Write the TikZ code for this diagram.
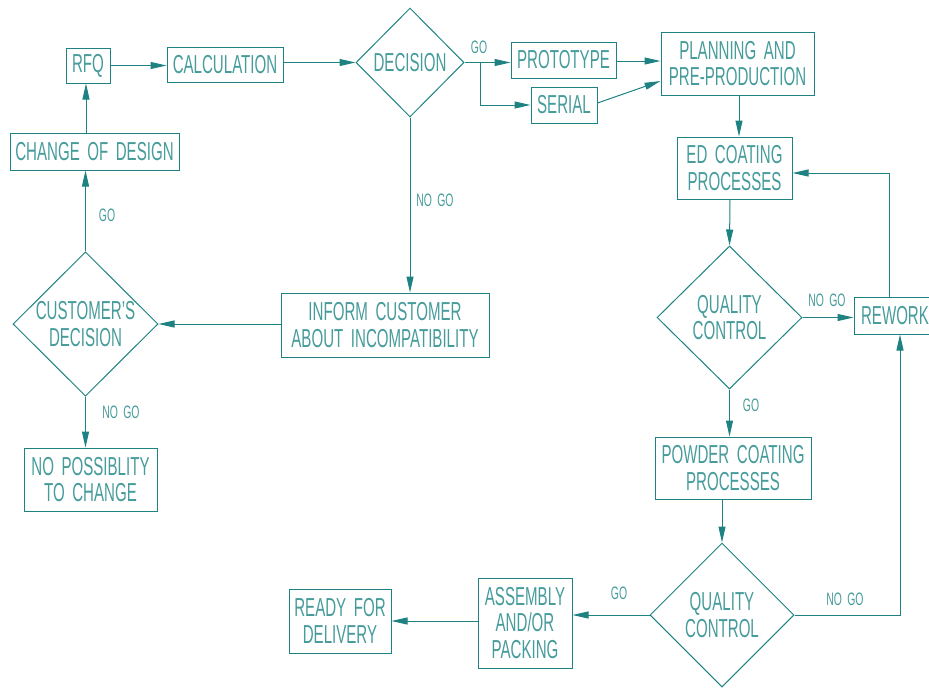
\documentclass[tikz,border=0pt]{standalone}
\usepackage{fontspec}
\setmainfont[FakeStretch=0.58,WordSpace=1.8]{Liberation Sans}
\usetikzlibrary{shapes.geometric,arrows.meta}
\definecolor{tl}{RGB}{30,130,130}
\definecolor{tt}{RGB}{70,155,155}
\begin{document}
\begin{tikzpicture}[x=1pt,y=-1pt,
  box/.style={draw=tl, line width=1pt, text=tt, inner sep=0pt, align=center,
    font=\fontsize{26}{26.5}\selectfont},
  dia/.style={diamond, draw=tl, line width=1pt, text=tt, inner sep=0pt, align=center,
    font=\fontsize{26}{26.5}\selectfont},
  arr/.style={draw=tl, line width=1pt, -{Triangle[length=16pt,width=7pt]}},
  lbl/.style={text=tt, inner sep=0pt, font=\fontsize{18}{18}\selectfont},
]
\useasboundingbox (0,0) rectangle (929,689);
% boxes
\node[box, minimum width=44pt, minimum height=35pt] (rfq) at (88,65.5) {RFQ};
\node[box, minimum width=116pt, minimum height=35pt] (calc) at (225,64.5) {CALCULATION};
\node[box, minimum width=169pt, minimum height=37pt] (change) at (94.5,151.5) {CHANGE OF DESIGN};
\node[dia, minimum width=108pt, minimum height=109pt] (dec) at (410,62.5) {DECISION};
\node[box, minimum width=105pt, minimum height=36pt] (proto) at (563.5,60) {PROTOTYPE};
\node[box, minimum width=66pt, minimum height=36pt] (serial) at (564,105) {SERIAL};
\node[box, minimum width=153pt, minimum height=63pt] (plan) at (737.5,63.5) {PLANNING AND\\PRE-PRODUCTION};
\node[box, minimum width=115pt, minimum height=62pt] (ed) at (734.5,168) {ED COATING\\PROCESSES};
\node[dia, minimum width=145pt, minimum height=143pt] (qc1) at (729.5,317.5) {QUALITY\\CONTROL};
\node[box, minimum width=82pt, minimum height=37pt] (rework) at (895,315.5) {REWORK};
\node[box, minimum width=156pt, minimum height=62pt] (powder) at (733,468) {POWDER COATING\\PROCESSES};
\node[dia, minimum width=144pt, minimum height=144pt] (qc2) at (722,615) {QUALITY\\CONTROL};
\node[box, minimum width=94pt, minimum height=90pt] (asm) at (525,623) {ASSEMBLY\\AND/OR\\PACKING};
\node[box, minimum width=102pt, minimum height=64pt] (ready) at (340,621) {READY FOR\\DELIVERY};
\node[box, minimum width=208pt, minimum height=64pt] (inform) at (385,325) {INFORM CUSTOMER\\ABOUT INCOMPATIBILITY};
\node[dia, minimum width=145pt, minimum height=144pt] (cdec) at (85.5,324) {CUSTOMER'S\\DECISION};
\node[box, minimum width=133pt, minimum height=63pt] (nopos) at (90.5,479.5) {NO POSSIBLITY\\TO CHANGE};
% helper coordinates
\coordinate (br) at (480,62);
% connectors
\draw[arr] (change.north -| 86,0) -- (rfq.south -| 86,0);
\draw[arr] (rfq.east) -- (calc.west |- rfq.east);
\draw[arr] (calc.east |- dec.west) -- (dec.west);
\draw[arr] (dec.east) -- (dec.east -| proto.west);
\draw[arr] (br) |- (serial.west);
\draw[arr] (proto.east |- 0,61) -- (plan.west |- 0,61);
\draw[arr] (serial.east |- 0,103) -- (plan.west |- 0,81);
\draw[arr] (plan.south -| 739,0) -- (ed.north -| 739,0);
\draw[arr] (ed.south -| 730,0) -- (qc1.north);
\draw[arr] (qc1.east) -- (rework.west |- qc1.east);
\draw[arr] (rework.north -| 889,0) |- (ed.east |- 0,173);
\draw[arr] (qc1.south) -- (powder.north -| qc1.south);
\draw[arr] (powder.south -| qc2.north) -- (qc2.north);
\draw[arr] (qc2.east) -| (rework.south -| 900,0);
\draw[arr] (qc2.west) -- (asm.east |- qc2.west);
\draw[arr] (asm.west |- 0,621) -- (ready.east |- 0,621);
\draw[arr] (dec.south) -- (inform.north -| dec.south);
\draw[arr] (inform.west |- cdec.east) -- (cdec.east);
\draw[arr] (cdec.south) -- (nopos.north -| cdec.south);
\draw[arr] (cdec.north) -- (change.south -| cdec.north);
% labels
\node[lbl] (lgo1) at (479,47) {GO};
\node[lbl] (lnogo1) at (435,200) {NO GO};
\node[lbl] (lgo2) at (107,215) {GO};
\node[lbl] (lnogo2) at (121,412) {NO GO};
\node[lbl] (lnogo3) at (827,300) {NO GO};
\node[lbl] (lgo3) at (751,405) {GO};
\node[lbl] (lnogo4) at (845,599) {NO GO};
\node[lbl] (lgo4) at (619,593) {GO};
\end{tikzpicture}
\end{document}
